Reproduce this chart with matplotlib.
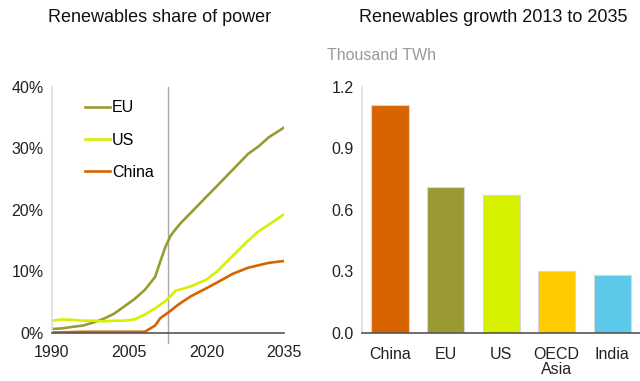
import numpy as np, matplotlib
matplotlib.use('Agg')
import matplotlib.pyplot as plt

# left panel: renewables share of power (%)
years = [1990, 1992, 1994, 1996, 1998, 2000, 2002, 2004, 2006, 2008, 2010,
         2011, 2012, 2013, 2014, 2015, 2017, 2020, 2022, 2025, 2028, 2030, 2032, 2035]
eu = [0.65, 0.75, 1.0, 1.2, 1.7, 2.3, 3.1, 4.3, 5.5, 7.0, 9.1,
      11.6, 14.0, 15.8, 16.9, 17.9, 19.6, 22.2, 23.9, 26.5, 29.1, 30.3, 31.8, 33.4]
us = [2.0, 2.2, 2.15, 2.0, 2.0, 1.9, 2.0, 2.0, 2.2, 3.0, 4.0,
      4.6, 5.2, 6.0, 6.9, 7.1, 7.6, 8.7, 10.0, 12.5, 15.0, 16.5, 17.6, 19.3]
china = [0.1, 0.1, 0.15, 0.2, 0.2, 0.2, 0.2, 0.2, 0.2, 0.2, 1.2,
         2.4, 3.0, 3.6, 4.3, 4.9, 6.0, 7.3, 8.2, 9.6, 10.6, 11.0, 11.4, 11.7]
base_year = 2012.5
x_ticks = [1990, 2005, 2020, 2035]
y_ticks = [0, 10, 20, 30, 40]

# right panel: renewables growth 2013-2035 (thousand TWh)
regions = ['China', 'EU', 'US', 'OECD\nAsia', 'India']
growth = [1.11, 0.713, 0.673, 0.303, 0.282]
bar_ticks = [0.0, 0.3, 0.6, 0.9, 1.2]

C_EU, C_US, C_CN = '#9a9a34', '#d6f000', '#d86400'
bar_cols = [C_CN, C_EU, C_US, '#ffcc00', '#5dc9ea']

plt.rcParams['font.family'] = ['Liberation Sans', 'DejaVu Sans']
fig = plt.figure(figsize=(6.4, 3.81), dpi=100, facecolor='white')
ax = fig.add_axes([0.081, 0.126, 0.363, 0.646])
ax2 = fig.add_axes([0.566, 0.126, 0.434, 0.646])

for a in (ax, ax2):
    for s in ('top', 'right'):
        a.spines[s].set_visible(False)
    a.spines['left'].set_color('#dddddd'); a.spines['left'].set_linewidth(1.2)
    a.spines['bottom'].set_color('#555555'); a.spines['bottom'].set_linewidth(1.2)
    a.tick_params(length=0, labelsize=11.5, colors='#222222', pad=6)

ax.plot(years, eu, color=C_EU, lw=1.9, label='EU')
ax.plot(years, us, color=C_US, lw=1.9, label='US')
ax.plot(years, china, color=C_CN, lw=1.9, label='China')
ax.axvline(base_year, ymin=-0.04, ymax=1, color='#aaaaaa', lw=1, clip_on=False, zorder=0)
ax.set_xlim(1990, 2035); ax.set_ylim(0, 40)
ax.set_xticks(x_ticks); ax.set_yticks(y_ticks)
ax.set_yticklabels([f'{v}%' for v in y_ticks])
ax.tick_params(axis='x', pad=9)
ax.legend(loc='upper left', bbox_to_anchor=(0.08, 1.004), frameon=False, fontsize=11.5,
          handlelength=1.6, handletextpad=0.1, labelspacing=1.08)
fig.text(0.25, 0.953, 'Renewables share of power', ha='center', va='center', fontsize=13, color='#111111')

x = np.arange(len(regions))
ax2.bar(x, growth, width=0.67, color=bar_cols, edgecolor='#d8d8d8', linewidth=0.8)
ax2.set_xlim(-0.5, 4.5); ax2.set_ylim(0, 1.2)
ax2.set_xticks(x); ax2.set_xticklabels(regions, linespacing=1.05)
ax2.set_yticks(bar_ticks); ax2.set_yticklabels([f'{v:.1f}' for v in bar_ticks])
ax2.tick_params(axis='x', pad=10)
fig.text(0.77, 0.953, 'Renewables growth 2013 to 2035', ha='center', va='center', fontsize=13, color='#111111')
fig.text(0.511, 0.855, 'Thousand TWh', ha='left', va='center', fontsize=11.5, color='#999999')

fig.savefig('out.png', dpi=100, facecolor='white')
